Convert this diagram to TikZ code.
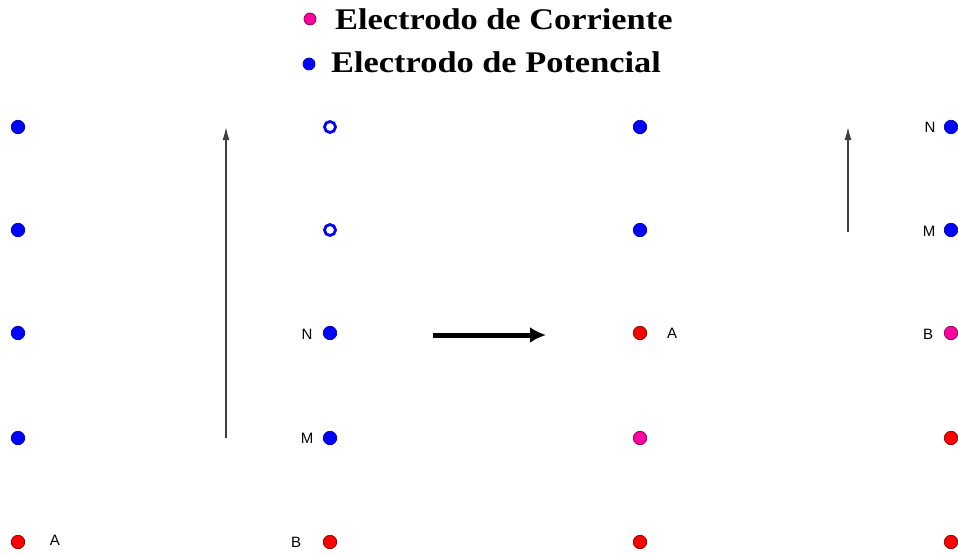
\documentclass[tikz,border=0pt]{standalone}
\usepackage{fontspec}
\setmainfont{Liberation Serif}
\newfontfamily\lblfont{Liberation Sans}
\usetikzlibrary{arrows.meta}
\definecolor{curr}{RGB}{255,0,160}
\definecolor{pot}{RGB}{0,0,255}
\definecolor{rojo}{RGB}{255,0,0}
\begin{document}
\begin{tikzpicture}[x=1pt,y=-1pt,
  dotbase/.style={circle,inner sep=0pt,minimum size=13.5pt,line width=0.7pt},
  bluedot/.style={dotbase,fill=pot,draw=pot!70!black},
  reddot/.style={dotbase,fill=rojo,draw=rojo!50!black},
  magdot/.style={dotbase,fill=curr,draw=curr!50!black},
  opendot/.style={circle,inner sep=0pt,minimum size=11pt,draw=pot,line width=2.8pt,fill=white},
  lbl/.style={font=\lblfont\fontsize{15}{15}\selectfont,inner sep=0pt},
  legtext/.style={font=\bfseries\fontsize{30}{30}\selectfont,anchor=west,inner sep=0pt},
  thinarrow/.style={draw=black!75,line width=1.4pt,-{Latex[length=13pt,width=7pt]}},
  bigarrow/.style={draw=black,line width=5pt,-{Latex[length=16pt,width=16pt]}}]
\useasboundingbox (0,0) rectangle (958,554);
% legend
\node[magdot,minimum size=12pt] (lc) at (310,19) {};
\node[legtext] (lct) at (335,19) {\scalebox{1.146}[1]{Electrodo de Corriente}};
\node[bluedot,minimum size=12pt] (lp) at (309,64) {};
\node[legtext] (lpt) at (331,62) {\scalebox{1.146}[1]{Electrodo de Potencial}};
% left grid
\node[bluedot] (l11) at (18,127) {};
\node[bluedot] (l12) at (18,230) {};
\node[bluedot] (l13) at (18,333) {};
\node[bluedot] (l14) at (18,438) {};
\node[reddot] (l15) at (18,542) {};
\node[lbl] (lA) at (55,540) {A};
\node[opendot] (l21) at (330,127) {};
\node[opendot] (l22) at (330,230) {};
\node[bluedot] (l23) at (330,333) {};
\node[lbl] (lN) at (307,334) {N};
\node[bluedot] (l24) at (330,438) {};
\node[lbl] (lM) at (307,438) {M};
\node[reddot] (l25) at (330,542) {};
\node[lbl] (lB) at (296,542) {B};
% left arrow
\coordinate (la1) at (226,438);
\coordinate (la2) at (226,127);
\draw[thinarrow] (la1) -- (la2);
% big arrow
\coordinate (ba1) at (433,335);
\coordinate (ba2) at (546,335);
\draw[bigarrow] (ba1) -- (ba2);
% right grid
\node[bluedot] (r11) at (640,127) {};
\node[bluedot] (r12) at (640,230) {};
\node[reddot] (r13) at (640,333) {};
\node[lbl] (rA) at (672,333) {A};
\node[magdot] (r14) at (640,438) {};
\node[reddot] (r15) at (640,542) {};
\node[bluedot] (r21) at (951,127) {};
\node[lbl] (rN) at (930,127) {N};
\node[bluedot] (r22) at (951,230) {};
\node[lbl] (rM) at (929,231) {M};
\node[magdot] (r23) at (951,333) {};
\node[lbl] (rB) at (928,334) {B};
\node[reddot] (r24) at (951,438) {};
\node[reddot] (r25) at (951,542) {};
% right arrow
\coordinate (ra1) at (848,232);
\coordinate (ra2) at (848,127);
\draw[thinarrow] (ra1) -- (ra2);
\end{tikzpicture}
\end{document}
